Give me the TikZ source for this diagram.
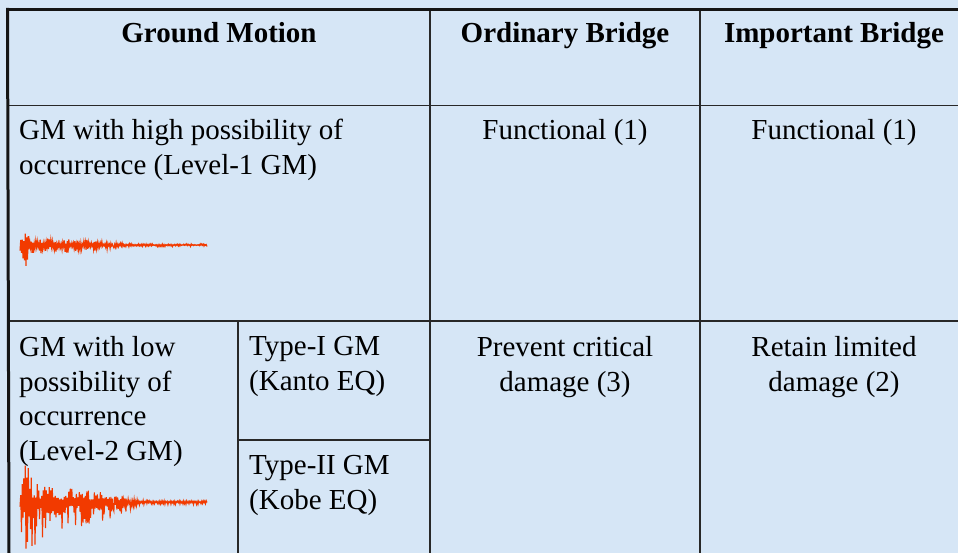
\documentclass[tikz,border=0pt]{standalone}
\usepackage{fontspec}
\setmainfont{Liberation Serif}
\begin{document}
\begin{tikzpicture}[x=1pt,y=-1pt,
  cell/.style={inner sep=0pt,font=\fontsize{29}{34.8}\selectfont},
  lcell/.style={cell,anchor=north west,align=left},
  ccell/.style={cell,anchor=north,align=center},
  hcell/.style={cell,anchor=base,font=\fontsize{29}{34.8}\selectfont\bfseries},
  outer/.style={line width=3pt,draw={rgb,255:red,20;green,20;blue,20}},
  grid/.style={line width=1.8pt,draw={rgb,255:red,40;green,40;blue,40}},
  thin/.style={line width=1.4pt,draw={rgb,255:red,40;green,40;blue,40}},
  wave/.style={line width=1.1pt,draw={rgb,255:red,242;green,58;blue,0},line join=miter}]
\definecolor{bgblue}{RGB}{214,230,246}
\useasboundingbox (0,0) rectangle (958,553);
\fill[bgblue] (0,0) rectangle (958,553);
% grid coordinates
\coordinate (tl) at (9,9.5);
\coordinate (tr) at (958,9.5);
\coordinate (bl) at (9,553);
\coordinate (h1l) at (9,105.5);
\coordinate (h1r) at (958,105.5);
\coordinate (h2l) at (9,321);
\coordinate (h2r) at (958,321);
\coordinate (v1t) at (430,9.5);
\coordinate (v1b) at (430,553);
\coordinate (v2t) at (700,9.5);
\coordinate (v2b) at (700,553);
\coordinate (v3t) at (238,321);
\coordinate (v3b) at (238,553);
\coordinate (sl) at (238,440);
\coordinate (sr) at (430,440);
\draw[grid] (h1l) -- (h1r);
\draw[grid] (h2l) -- (h2r);
\draw[grid] (v1t) -- (v1b);
\draw[grid] (v2t) -- (v2b);
\draw[grid] (v3t) -- (v3b);
\draw[thin] (sl) -- (sr);
\draw[outer] (tl) -- (tr);
\draw[outer] (7.5,8) -- (bl);
% headers
\node[hcell] (hgm) at (219,43) {Ground Motion};
\node[hcell] (hob) at (565,43) {Ordinary Bridge};
\node[hcell] (hib) at (834,43) {Important Bridge};
% row 1
\node[lcell] (r1a) at (19,119) {GM with high possibility of\\occurrence (Level-1 GM)};
\node[ccell] (r1b) at (565,119) {Functional (1)};
\node[ccell] (r1c) at (834,119) {Functional (1)};
% row 2
\node[lcell] (r2a) at (19,336) {GM with low\\possibility of\\occurrence\\(Level-2 GM)};
\node[lcell] (r2t1) at (249,336) {Type-I GM\\(Kanto EQ)};
\node[lcell] (r2t2) at (249,455) {Type-II GM\\(Kobe EQ)};
\node[ccell] (r2b) at (565,336) {Prevent critical\\damage (3)};
\node[ccell] (r2c) at (834,336) {Retain limited\\damage (2)};
% waveforms
\pgfmathsetseed{11}
\draw[wave] plot[domain=20:207,samples=250,variable=\x]
  ({\x},{245+ifthenelse(mod(round((\x-20)*1.3369),2)==0,1.3,-1.0)*min(1,(\x-19)/4)*(1.2+12*exp(-max(\x-26,0)/9)+5*exp(-((\x-24)/90)^4))*(0.15+0.85*rnd^1.5)});
\pgfmathsetseed{23}
\draw[wave] plot[domain=20:207,samples=250,variable=\x]
  ({\x},{502+ifthenelse(mod(round((\x-20)*1.3369),2)==0,1.3,-0.72)*min(1,(\x-19)/5)*(2+32*exp(-max(\x-27,0)/12)+17*exp(-((\x-26)/98)^6))*(0.15+0.85*rnd^1.5)});
\end{tikzpicture}
\end{document}
